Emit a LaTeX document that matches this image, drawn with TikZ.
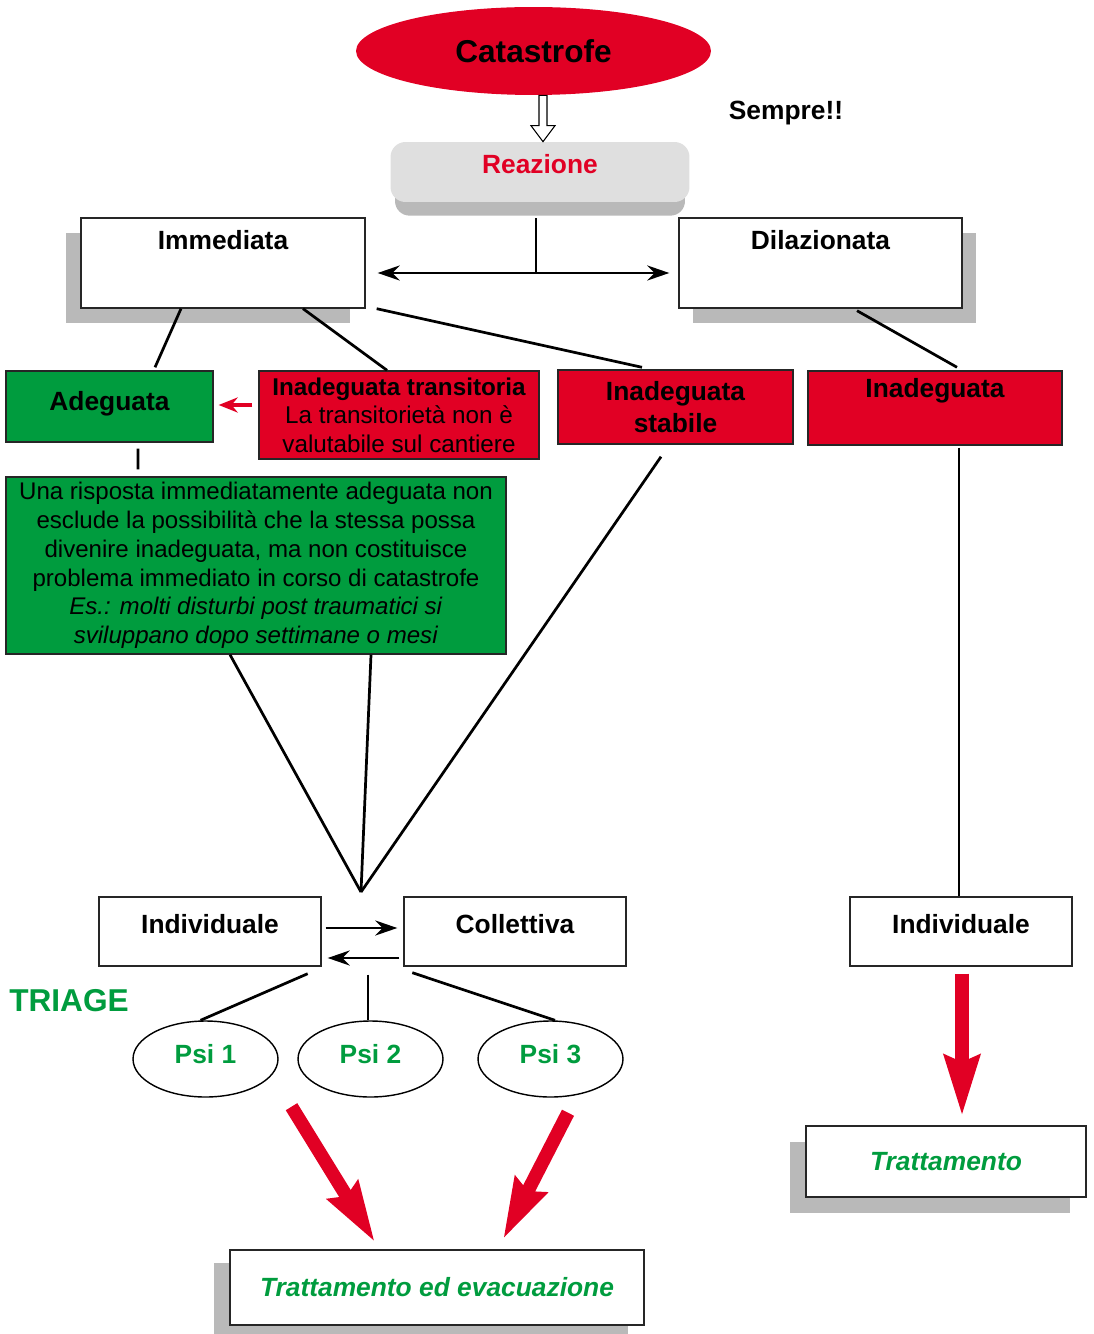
\documentclass[tikz,border=0pt]{standalone}
\usepackage{fontspec}
\setmainfont{Liberation Sans}
\usepackage{tikz}
\usetikzlibrary{arrows}
\usetikzlibrary{arrows.meta}
\usetikzlibrary{calc}
\usetikzlibrary{shapes.geometric}
\usetikzlibrary{shadows}
\definecolor{catred}{RGB}{225,0,36}
\definecolor{okgreen}{RGB}{0,156,62}
\definecolor{shgray}{RGB}{185,185,185}
\definecolor{reagray}{RGB}{223,223,223}

\begin{document}
\begin{tikzpicture}[x=0.02cm, y=-0.02cm, >={Stealth[length=0.44cm,width=0.3cm]}]
\useasboundingbox (0,0) rectangle (1094,1334);
\tikzstyle{box}=[rectangle, draw=black!85, line width=0.8pt, fill=white, inner sep=0pt, align=center]
\tikzstyle{bigtxt}=[font=\fontsize{15pt}{18pt}\selectfont\bfseries]
\tikzstyle{smalltxt}=[font=\fontsize{13.7pt}{16.4pt}\selectfont]
\tikzstyle{endtxt}=[text=okgreen, font=\fontsize{15pt}{18pt}\selectfont\bfseries\itshape]
\tikzstyle{psi}=[ellipse, draw=black, line width=0.8pt, minimum width=2.9cm, minimum height=1.52cm, text=okgreen, bigtxt, text depth=0.2cm]
\tikzstyle{shadowL}=[drop shadow={fill=shgray, opacity=1, shadow xshift=-0.3cm, shadow yshift=-0.3cm}]
\tikzstyle{shadowR}=[drop shadow={fill=shgray, opacity=1, shadow xshift=0.28cm, shadow yshift=-0.3cm}]
\tikzstyle{link}=[line width=1.55pt]
\tikzstyle{fat}=[catred, line width=0.27cm, -{Stealth[length=1.2cm,width=0.68cm,inset=0.12cm]}]
% top
\node[ellipse, fill=catred, minimum width=7.1cm, minimum height=1.76cm, font=\fontsize{18pt}{20pt}\selectfont\bfseries] (cat) at (533.5,51) {Catastrofe};
\node[rectangle, rounded corners=0.3cm, fill=reagray, minimum width=5.98cm, minimum height=1.2cm, inner ysep=0pt, text height=0.63cm, text depth=0.57cm, text=catred, bigtxt, drop shadow={fill=shgray, opacity=1, shadow xshift=0cm, shadow yshift=-0.3cm, shadow scale=0.97}] (rea) at (540,172) {Reazione};
\node[bigtxt] (sem) at (786,113) {Sempre!!};
\coordinate (tip) at ($(rea.north)+(3,0)$);
\coordinate (tail) at (tip |- cat.south);
\draw[fill=white, line width=0.6pt] (tip) -- ++(-12,-16) -- ++(8,0) -- ($(tail)+(-4,0)$) -- ($(tail)+(4,0)$) -- ($(tip)+(4,-16)$) -- ++(8,0) -- cycle;
% reactions
\node[box, shadowL, bigtxt, minimum width=5.68cm, minimum height=1.8cm, text height=0.63cm, text depth=1.17cm] (imm) at (223,263) {Immediata};
\node[box, shadowR, bigtxt, minimum width=5.66cm, minimum height=1.8cm, text height=0.63cm, text depth=1.17cm] (dil) at (820.5,263) {Dilazionata};
\node[box, fill=okgreen, bigtxt, minimum width=4.14cm, minimum height=1.42cm, text height=0.79cm, text depth=0.63cm] (ade) at (109.5,406.5) {Adeguata};
\node[box, fill=catred, font=\fontsize{13.8pt}{16.2pt}\selectfont, minimum width=5.6cm, minimum height=1.76cm] (itr) at (399,415) {\textbf{Inadeguata transitoria}\\La transitorietà non è\\valutabile sul cantiere};
\node[box, fill=catred, bigtxt, minimum width=4.7cm, minimum height=1.48cm] (ist) at (675.5,407) {Inadeguata\\stabile};
\node[box, fill=catred, bigtxt, minimum width=5.08cm, minimum height=1.48cm, text height=0.53cm, text depth=0.95cm] (ina) at (935,408) {Inadeguata};
\node[box, fill=okgreen, smalltxt, minimum width=10cm, minimum height=3.54cm] (gbox) at (256,565.5) {Una risposta immediatamente adeguata non\\esclude la possibilità che la stessa possa\\divenire inadeguata, ma non costituisce\\problema immediato in corso di catastrofe\\\textit{Es.: molti disturbi post traumatici si}\\\textit{sviluppano dopo settimane o mesi}};
% triage
\foreach \name/\x/\txt in {ind1/210/Individuale, col/515/Collettiva, ind2/961/Individuale}
    \node[box, bigtxt, minimum width=4.44cm, minimum height=1.38cm, text height=0.73cm, text depth=0.65cm] (\name) at (\x,931.5) {\txt};
\node[text=okgreen, font=\fontsize{18pt}{20pt}\selectfont\bfseries] (tri) at (69,1001) {TRIAGE};
\foreach \n/\x in {1/205.5,2/370.5,3/550.5}
    \node[psi] (psi\n) at (\x,1059) {Psi \n};
\node[box, endtxt, minimum width=8.28cm, minimum height=1.5cm, drop shadow={fill=shgray, opacity=1, shadow xshift=-0.32cm, shadow yshift=-0.26cm}] (tre) at (437,1287.5) {Trattamento ed evacuazione};
\node[box, endtxt, minimum width=5.6cm, minimum height=1.42cm, drop shadow={fill=shgray, opacity=1, shadow xshift=-0.32cm, shadow yshift=-0.32cm}] (trt) at (946,1161.5) {Trattamento};
% connectors
\coordinate (split) at ($(rea.south)+(-4,71)$);
\draw[link] ($(rea.south)+(-4,16)$) -- (split);
\draw[link,<->] ($(imm.east)+(12,10)$) -- ($(dil.west)+(-9,10)$);
\draw[link] ($(imm.south)+(-42,0)$) -- ($(ade.north)+(45.5,-3)$);
\draw[link] ($(imm.south)+(80,0)$) -- ($(itr.north)+(-12,0)$);
\draw[link] ($(imm.south east)+(11,0)$) -- ($(ist.north)+(-33.5,-2)$);
\draw[link] ($(dil.south)+(36.5,2)$) -- ($(ina.north)+(22,-3)$);
\draw[catred, line width=0.07cm, -{Stealth[length=0.38cm,width=0.3cm]}] ($(itr.west)+(-6,-10)$) -- ($(ade.east)+(5,-1.5)$);
\draw[link] ($(ade.south)+(28.5,6)$) -- ($(gbox.north)+(-118,-7)$);
\coordinate (meet) at (361,892);
\draw[link] ($(gbox.south)+(-26,0)$) -- (meet);
\draw[link] ($(gbox.south)+(115,0)$) -- (meet);
\draw[link] ($(ist.south)+(-14.5,12)$) -- (meet);
\draw[link] ($(ina.south -| ind2.north)+(-2,2)$) -- ($(ind2.north)+(-2,0)$);
\draw[link,->] ($(ind1.east)+(4,-3.5)$) -- ($(col.west)+(-6,-3.5)$);
\draw[link,->] ($(col.west)+(-4,26.5)$) -- ($(ind1.east)+(6,26.5)$);
\draw[link] ($(ind1.south east)+(-14,7)$) -- ($(psi1.north)+(-5,0)$);
\draw[link] ($(psi2.north |- ind1.south)+(-2.5,8)$) -- ($(psi2.north)+(-2.5,0)$);
\draw[link] ($(col.south west)+(9,6)$) -- ($(psi3.north)+(4.5,0)$);
\draw[fat] ($(psi1.south)+(86,9)$) -- ($(tre.north)+(-62,-7)$);
\draw[fat] ($(psi3.south)+(17.5,15)$) -- ($(tre.north)+(66,-10)$);
\draw[fat] ($(ind2.south)+(1,7)$) -- ($(trt.north)+(16,-9)$);
\end{tikzpicture}
\end{document}
